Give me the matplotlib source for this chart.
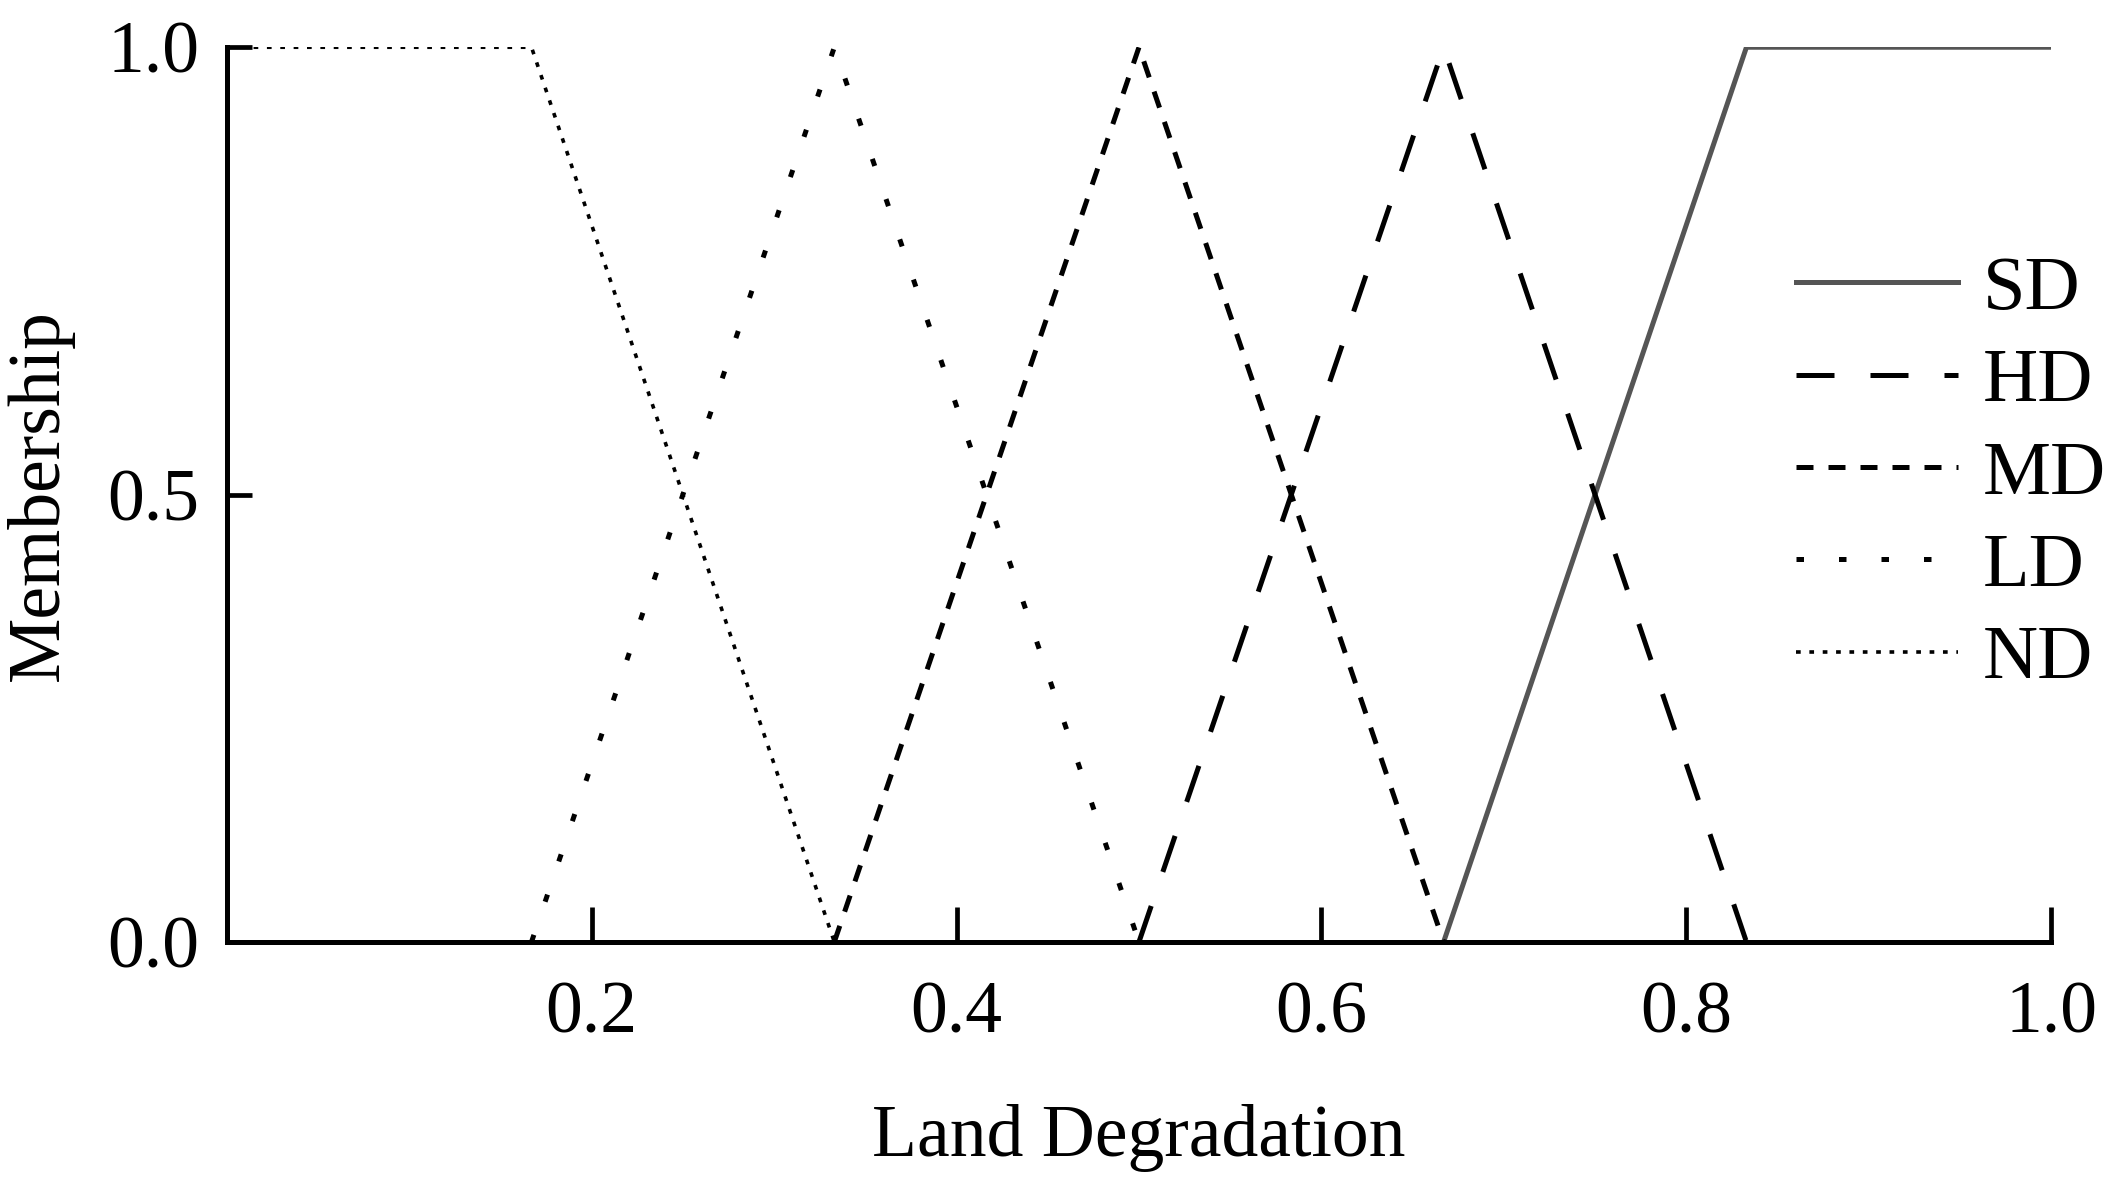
import matplotlib.pyplot as plt

# membership functions (x breakpoints, y values)
sd_x = [0.667, 0.833, 1.0]
sd_y = [0, 1, 1]
hd_x = [0.5, 0.667, 0.833]
hd_y = [0, 1, 0]
md_x = [0.333, 0.5, 0.667]
md_y = [0, 1, 0]
ld_x = [0.167, 0.333, 0.5]
ld_y = [0, 1, 0]
nd_x = [0.0, 0.167, 0.333]
nd_y = [1, 1, 0]

plt.rcParams['font.family'] = ['Liberation Serif', 'DejaVu Serif']

fig = plt.figure(figsize=(10.6, 5.905), dpi=200)
ax = fig.add_axes([0.107, 0.2024, 0.8605, 0.7576])

lw = 1.8
ax.plot(sd_x, sd_y, color='#555555', lw=lw, label='SD')
ax.plot(hd_x, hd_y, color='black', lw=lw, dashes=(7.6, 7.2), label='HD')
ax.plot(md_x, md_y, color='black', lw=lw, dashes=(3.4, 3.0), label='MD')
ax.plot(ld_x, ld_y, color='black', lw=lw, dashes=(1.5, 7.0), label='LD')
ax.plot(nd_x, nd_y, color='black', lw=1.3, dashes=(1.3, 2.4), label='ND')

ax.set_xlim(0, 1)
ax.set_ylim(0, 1)
ax.set_xticks([0.2, 0.4, 0.6, 0.8, 1.0])
ax.set_xticklabels(['0.2', '0.4', '0.6', '0.8', '1.0'])
ax.set_yticks([0.0, 0.5, 1.0])
ax.set_yticklabels(['0.0', '0.5', '1.0'])
ax.tick_params(direction='in', width=1.7, labelsize=26.5)
ax.tick_params(axis='x', length=12.5, pad=14)
ax.tick_params(axis='y', length=9, pad=10)

for s in ['top', 'right']:
    ax.spines[s].set_visible(False)
for s in ['left', 'bottom']:
    ax.spines[s].set_linewidth(1.8)

ax.set_xlabel('Land Degradation', fontsize=26.5, labelpad=20)
ax.set_ylabel('Membership', fontsize=26.5, labelpad=12)

ax.legend(loc='center right', bbox_to_anchor=(1.03, 0.522), frameon=False,
          fontsize=27.5, handlelength=2.12, handletextpad=0.32, labelspacing=0.3,
          borderpad=0, borderaxespad=0)

plt.savefig('out.png', dpi=200)
